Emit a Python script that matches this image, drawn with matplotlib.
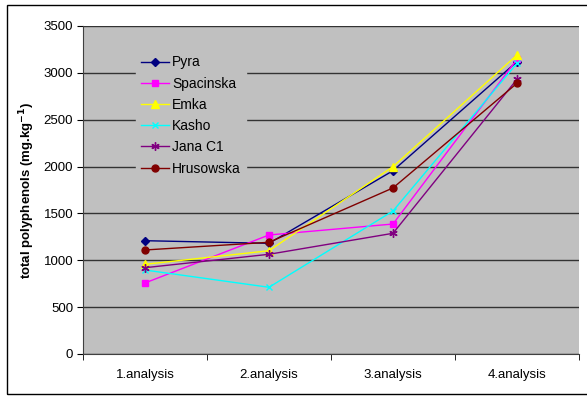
import numpy as np
import matplotlib
matplotlib.use("Agg")
import matplotlib.pyplot as plt
from matplotlib.patches import Rectangle

plt.rcParams['font.family'] = ['Liberation Sans', 'DejaVu Sans']

categories = ["1.analysis", "2.analysis", "3.analysis", "4.analysis"]

pyra = [1209, 1181, 1956, 3120]
spacinska = [758, 1270, 1387, 3145]
emka = [957, 1102, 1999, 3191]
kasho = [896, 712, 1526, 3102]
jana_c1 = [921, 1064, 1288, 2932]
hrusowska = [1110, 1192, 1772, 2889]

series = [
    ("Pyra", pyra, "#000080", "D", 4),
    ("Spacinska", spacinska, "#FF00FF", "s", 5),
    ("Emka", emka, "#FFFF00", "^", 6),
    ("Kasho", kasho, "#00FFFF", "x", 5),
    ("Jana C1", jana_c1, "#800080", (6, 2, 0), 6),
    ("Hrusowska", hrusowska, "#800000", "o", 5),
]

fig = plt.figure(figsize=(5.87, 3.96), dpi=100)
# outer chart frame (right edge falls off the canvas like the reference)
fig.patches.append(Rectangle((7 / 587, 2 / 396), 600 / 587, 389 / 396,
                             transform=fig.transFigure, fill=False,
                             edgecolor="black", linewidth=1))

ax = fig.add_axes([83 / 587, 42 / 396, 496 / 587, 328 / 396])
ax.set_facecolor("#C0C0C0")

x = np.arange(len(categories))
for name, vals, color, marker, ms in series:
    ax.plot(x, vals, color=color, marker=marker, markersize=ms, linewidth=1,
            markeredgewidth=1, label=name)

ax.set_xlim(-0.5, 3.5)
ax.set_ylim(0, 3500)
ax.set_yticks(np.arange(0, 3501, 500))
ax.yaxis.grid(True, color="#333333", linewidth=1)
ax.set_axisbelow(True)

ax.set_xticks(x)
ax.set_xticklabels(categories)
ax.set_xticks(np.arange(-0.5, 3.6, 1), minor=True)
ax.tick_params(axis="x", which="major", length=0, pad=11, labelsize=9.5)
ax.tick_params(axis="x", which="minor", length=4, direction="out")
ax.tick_params(axis="y", length=4, direction="out", labelsize=9.5, pad=3)

for side in ["top", "right"]:
    ax.spines[side].set_visible(False)
ax.spines["left"].set_color("#404040")
ax.spines["bottom"].set_color("#404040")

ax.set_ylabel("total polyphenols (mg.kg$^{\\mathbf{-1}}$)", fontsize=9.5,
              fontweight="bold", labelpad=5)

leg = ax.legend(loc="upper left", bbox_to_anchor=(0.107, 0.925), fontsize=10,
                frameon=True, facecolor="#C0C0C0", edgecolor="#C0C0C0",
                framealpha=1, fancybox=False, handlelength=2.0,
                handletextpad=0.25, labelspacing=0.52, borderpad=0.35,
                borderaxespad=0)

fig.savefig("out.png", dpi=100)
